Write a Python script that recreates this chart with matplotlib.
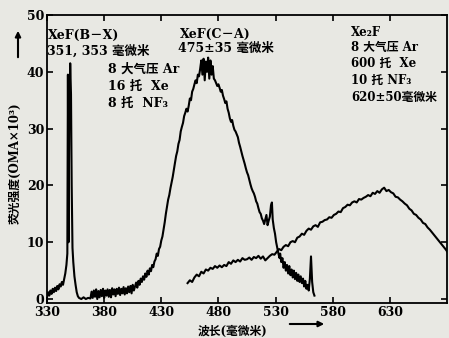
import numpy as np
import matplotlib
matplotlib.use("Agg")
import matplotlib.pyplot as plt

# XeF (B-X) + (C-A) trace, wavelength in nm, intensity in OMA units
xef_nm = [330, 331, 332, 333, 334, 335, 336, 337, 338, 339, 340, 341, 342, 343, 344, 345, 346, 347,
          347.8, 348.3, 348.8, 349.4, 350.3, 351, 351.6, 352.3, 353, 354, 355, 356, 357, 358, 360, 362,
          364, 366, 368, 369, 370, 371, 372, 373, 374, 375, 376, 377, 378, 379, 380, 381, 382, 383, 384,
          385, 386, 387, 388, 389, 390, 391, 392, 393, 394, 395, 396, 397, 398, 399, 400, 401, 402, 403,
          404, 405, 406, 407, 408, 409, 410, 411, 412, 413, 414, 415, 416, 417, 418, 419, 420, 421, 422,
          423, 424, 425, 426, 427, 428, 429, 430, 431, 432, 433, 434, 435, 436, 437, 438, 439, 440, 441,
          442, 443, 444, 445, 446, 447, 448, 449, 450, 451, 452, 453, 454, 455, 456, 457, 458, 459, 460,
          461, 462, 463, 464, 465, 466, 467, 468, 469, 470, 471, 472, 473, 474, 475, 476, 477, 478, 479,
          480, 481, 482, 483, 484, 485, 486, 487, 488, 489, 490, 491, 492, 493, 494, 495, 496, 497, 498,
          499, 500, 501, 502, 503, 504, 505, 506, 507, 508, 509, 510, 511, 512, 513, 514, 515, 516, 517,
          518, 519, 520, 521, 522, 523, 524, 525, 526, 526.8, 527.5, 528.5, 529.5, 530.5, 531.5, 532.5,
          533.5, 534, 535, 536, 537, 538, 539, 540, 541, 542, 543, 544, 545, 546, 547, 548, 549, 550, 551,
          552, 553, 554, 555, 556, 557, 558, 559, 560, 561, 562, 563, 564]
xef_val = [0.3, 1.2, 0.6, 1.5, 0.9, 1.8, 1.2, 2.0, 1.4, 2.3, 1.7, 2.6, 2.2, 3.0, 2.5, 3.5, 4.5, 6.0,
           8.0, 39.5, 10.0, 30.0, 41.5, 36.0, 20.0, 9.0, 6.5, 4.0, 2.5, 1.2, 0.5, 0.2, 0.0, 0.3,
           0.0, 0.2, 0.1, 1.3, 0.2, 1.5, 0.4, 1.7, 0.0, 1.4, 0.3, 1.6, 0.5, 1.8, 0.2, 1.5, 0.6, 1.7, 0.4,
           1.6, 0.3, 1.9, 0.8, 1.7, 0.5, 1.8, 0.9, 2.0, 0.7, 1.8, 1.0, 2.1, 0.8, 1.9, 1.0, 2.2, 1.2, 2.3,
           1.0, 2.5, 1.5, 2.2, 2.9, 2.0, 3.2, 2.5, 3.6, 3.0, 4.0, 3.4, 4.5, 3.9, 5.0, 4.3, 5.4, 4.9, 6.0,
           5.6, 6.6, 7.0, 8.0, 7.6, 8.8, 9.2, 10.3, 11.0, 12.2, 13.5, 15.0, 16.2, 17.5, 18.3, 19.5, 20.5, 21.5, 22.8,
           24.0, 25.2, 26.0, 27.3, 28.0, 29.5, 30.3, 31.0, 32.2, 32.8, 33.5, 33.0, 34.0, 35.3, 35.0, 36.5, 37.0, 37.8, 38.5,
           38.0, 39.5, 39.2, 40.5, 42.0, 39.5, 42.3, 38.5, 41.8, 40.0, 42.5, 38.8, 42.0, 39.5, 41.0, 38.8, 38.5, 38.0, 37.5,
           37.8, 37.2, 36.5, 36.8, 35.8, 35.2, 34.5, 34.8, 33.5, 32.8, 31.8, 31.2, 31.5, 30.5, 29.8, 29.5, 29.0, 28.5, 27.5,
           26.8, 26.0, 25.2, 24.5, 23.8, 23.0, 22.3, 21.8, 21.0, 20.2, 19.5, 19.0, 18.6, 18.0, 17.2, 16.8, 16.0, 15.3, 15.0,
           14.2, 13.8, 13.2, 14.0, 14.8, 13.0, 13.8, 14.5, 16.5, 17.0, 14.0, 12.5, 11.5, 10.0, 9.0, 8.0,
           7.2, 8.0, 6.5, 7.2, 5.5, 6.5, 5.0, 6.0, 4.5, 5.8, 4.2, 5.2, 3.8, 5.0, 3.5, 4.6, 3.2, 4.3, 3.0,
           4.0, 2.8, 3.6, 2.2, 3.2, 1.8, 2.5, 1.5, 3.5, 7.5, 3.0, 1.2, 0.6]

# Xe2F trace
xe2f_nm = list(range(453, 683, 2))
xe2f_val = [2.8, 3.3, 3.0, 3.8, 4.3, 4.0, 4.8, 4.5, 5.2, 5.0, 5.5, 5.3, 5.8, 5.5, 5.9, 5.6, 6.0, 5.8,
            6.5, 6.2, 6.8, 6.5, 6.9, 6.6, 7.2, 6.9, 7.0, 7.3, 6.9, 7.4, 7.2, 7.6, 7.1, 7.5, 6.8, 7.2,
            7.6, 7.9, 7.8, 8.3, 8.8, 8.6, 9.2, 9.5, 9.3, 10.0, 10.2, 10.0, 10.8, 11.0, 11.5, 11.3, 12.0,
            12.4, 12.2, 12.8, 13.0, 12.7, 13.5, 13.6, 13.9, 14.0, 14.4, 14.3, 14.8, 15.0, 15.4, 15.3,
            16.0, 16.2, 16.6, 16.5, 17.0, 17.2, 17.0, 17.6, 17.5, 17.8, 18.0, 18.3, 18.1, 18.7, 18.5,
            19.0, 18.7, 19.3, 19.6, 19.0, 19.2, 18.8, 18.6, 18.0, 17.9, 17.5, 17.2, 16.8, 16.5, 15.9,
            15.6, 15.0, 14.8, 14.3, 14.0, 13.4, 13.2, 12.6, 12.2, 11.7, 11.2, 10.7, 10.2, 9.7, 9.2,
            8.7, 8.1]

xticks = [330, 380, 430, 480, 530, 580, 630]
yticks = [0, 10, 20, 30, 40, 50]

W, H = 449, 338
bg = "#e8e8e3"
fams = ["DejaVu Serif", "Noto Sans CJK SC"]
plt.rcParams["font.family"] = fams

fig = plt.figure(figsize=(W / 100, H / 100), dpi=100, facecolor=bg)
ax = fig.add_axes([47 / W, 1 - 303 / H, 400 / W, 288 / H])
ax.set_facecolor(bg)

ax.plot(xef_nm, xef_val, color="black", lw=1.5)
ax.plot(xe2f_nm, xe2f_val, color="black", lw=1.5)

ax.set_xlim(330, 680)
ax.set_ylim(-0.7, 49.8)
ax.set_xticks(xticks)
ax.set_yticks(yticks)
ax.tick_params(direction="in", length=4, width=1.2, labelsize=9,
               top=True, right=True, pad=2)
for lbl in ax.get_xticklabels() + ax.get_yticklabels():
    lbl.set_fontweight("bold")
for s in ax.spines.values():
    s.set_linewidth(1.3)


def ftext(px, py, s, size=9):
    fig.text(px / W, 1 - py / H, s, fontsize=size, fontweight="bold", va="center")


# XeF (B-X)
ftext(48, 35, "XeF(B－X)")
ftext(47, 51, "351, 353 毫微米")
ftext(108, 69, "8 大气压 Ar")
ftext(108, 86, "16 托  Xe")
ftext(108, 103, "8 托  NF₃")
# XeF (C-A)
ftext(180, 34, "XeF(C－A)")
ftext(178, 48, "475±35 毫微米")
# Xe2F
ftext(351, 32, "Xe₂F", 8.5)
ftext(351, 47, "8 大气压 Ar", 8.5)
ftext(351, 63, "600 托  Xe", 8.5)
ftext(351, 80, "10 托 NF₃", 8.5)
ftext(351, 97, "620±50毫微米", 8.5)

# axis titles
fig.text(15 / W, 1 - 163 / H, "荧光强度(OMA×10³)", fontsize=8.5, fontweight="bold",
         rotation=90, ha="center", va="center")
fig.text(233 / W, 1 - 331 / H, "波长(毫微米)", fontsize=8.5, fontweight="bold",
         ha="center", va="center")

# arrows
fig.add_artist(matplotlib.patches.FancyArrowPatch(
    (18 / W, 1 - 60 / H), (18 / W, 1 - 28 / H), transform=fig.transFigure,
    arrowstyle="-|>", mutation_scale=8, lw=1.5, color="black"))
fig.add_artist(matplotlib.patches.FancyArrowPatch(
    (287 / W, 1 - 324 / H), (327 / W, 1 - 324 / H), transform=fig.transFigure,
    arrowstyle="-|>", mutation_scale=8, lw=1.5, color="black"))

fig.savefig("out.png", dpi=100, facecolor=bg)
